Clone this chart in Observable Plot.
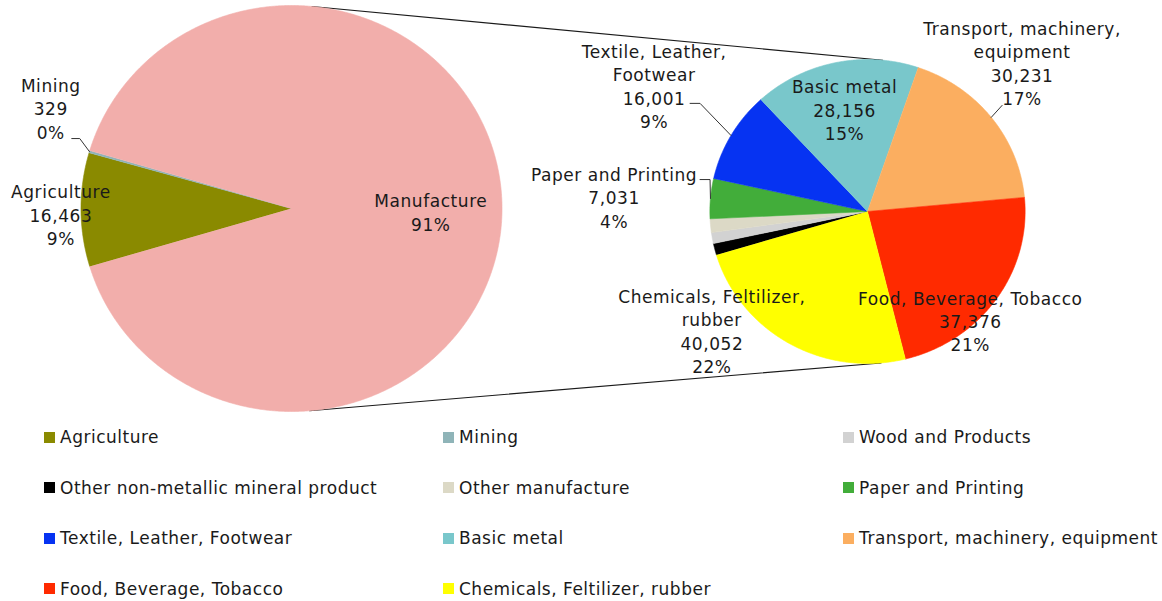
<!DOCTYPE html>
<html><head><meta charset="utf-8">
<script src="https://cdn.jsdelivr.net/npm/d3@7"></script>
<script src="https://cdn.jsdelivr.net/npm/@observablehq/plot@0.6"></script>
<style>
body{margin:0;background:#fff;font-family:"DejaVu Sans",Verdana,sans-serif;}
#legend{display:grid;grid-template-columns:399px 400px 300px;grid-auto-rows:50.5px;padding-left:44px;font-size:17px;letter-spacing:0.5px;color:#1a1a1a}
.item{display:flex;align-items:center;white-space:nowrap}
.sw{width:11px;height:11px;margin-right:5px;flex:none}
</style></head>
<body><div id="chart"></div><div id="legend"></div>
<script>
// ---- data ----
const names = ["Agriculture","Mining","Wood and Products","Other non-metallic mineral product","Other manufacture","Paper and Printing","Textile, Leather, Footwear","Basic metal","Transport, machinery, equipment","Food, Beverage, Tobacco","Chemicals, Feltilizer, rubber"];
const values = [16463, 329, 1920, 2041, 2400, 7031, 16001, 28156, 30231, 37376, 40052];
const colors = ["#8a8a00","#8fb4b8","#d2d2d2","#000000","#dcd9c6","#42ad3a","#0633f2","#79c7cb","#fbae60","#ff2a00","#ffff00"];
const otherName = "Manufacture";
const otherColor = "#f2aeab";
const mainOrder = ["Agriculture","Mining"];
const subOrder = ["Other non-metallic mineral product","Wood and Products","Other manufacture","Paper and Printing","Textile, Leather, Footwear","Basic metal","Transport, machinery, equipment","Food, Beverage, Tobacco","Chemicals, Feltilizer, rubber"];
const labelNames = {
  "Manufacture":"Manufacture","Agriculture":"Agriculture","Mining":"Mining",
  "Paper and Printing":"Paper and Printing","Textile, Leather, Footwear":"Textile, Leather,\nFootwear",
  "Basic metal":"Basic metal","Transport, machinery, equipment":"Transport, machinery,\nequipment",
  "Food, Beverage, Tobacco":"Food, Beverage, Tobacco","Chemicals, Feltilizer, rubber":"Chemicals, Feltilizer,\nrubber"
};

// ---- layout ----
const W = 1162, H = 412;
const sx = 1.037; // horizontal stretch of the original picture
const pies = {main:{cx:291, cy:208, r:203}, sub:{cx:867, cy:211, r:152}};
// label placement: [pie, angle in degrees clockwise from 12 o'clock, distance in radii]
const labelLayout = {
  "Manufacture":["main",91.3,0.662], "Agriculture":["main",268.5,1.096], "Mining":["main",293.5,1.247],
  "Basic metal":["sub",347.8,0.690], "Transport, machinery, equipment":["sub",45.0,1.387],
  "Food, Beverage, Tobacco":["sub",137.7,0.969], "Chemicals, Feltilizer, rubber":["sub",231.6,1.26],
  "Paper and Printing":["sub",273.5,1.611], "Textile, Leather, Footwear":["sub",301.5,1.588]
};
// leader lines: offsets of label-side points from the label centre
const leaderLayout = {
  "Mining":[[21,31],[29,31]], "Textile, Leather, Footwear":[[36,18],[46,18]],
  "Paper and Printing":[[86,-17],[96,-17]], "Transport, machinery, equipment":[[-20,43]]
};

// ---- geometry ----
const byName = new Map(names.map((n,i)=>[n,{name:n,value:values[i]}]));
const total = d3.sum(values);
const otherValue = d3.sum(subOrder, n => byName.get(n).value);
const mainData = [...mainOrder.map(n=>byName.get(n)), {name:otherName, value:otherValue}];
const subData = subOrder.map(n=>byName.get(n));
const start = Math.PI/2 + (otherValue/total)*Math.PI;
const pie = d3.pie().sort(null).value(d=>d.value).startAngle(start).endAngle(start+2*Math.PI);
const arcs = [...pie(mainData).map(a=>({...a,pie:"main"})), ...pie(subData).map(a=>({...a,pie:"sub"}))];
const polar = (p,a,k) => ({x:p.cx + k*p.r*sx*Math.sin(a), y:p.cy - k*p.r*Math.cos(a)});

const slicePts = [];
for (const a of arcs) {
  const p = pies[a.pie];
  const key = a.pie + ":" + a.data.name;
  const n = Math.max(2, Math.ceil((a.endAngle-a.startAngle)/(0.4*Math.PI/180)));
  slicePts.push({key, name:a.data.name, ...polar(p,0,0)});
  for (let i=0;i<=n;i++) slicePts.push({key, name:a.data.name, ...polar(p, a.startAngle+(a.endAngle-a.startAngle)*i/n, 1)});
}

// external tangents between the two pies (computed in unstretched space)
const P1 = pies.main, P2 = pies.sub;
const dx = (P2.cx-P1.cx)/sx, dy = P2.cy-P1.cy, D = Math.hypot(dx,dy);
const phi = Math.atan2(dy,dx), beta = Math.acos((P1.r-P2.r)/D);
const connectors = [];
for (const s of [-1,1]) {
  const nx = Math.cos(phi + s*beta), ny = Math.sin(phi + s*beta);
  connectors.push({side:s, x:P1.cx+P1.r*nx*sx, y:P1.cy+P1.r*ny});
  connectors.push({side:s, x:P2.cx+P2.r*nx*sx, y:P2.cy+P2.r*ny});
}

const fmt = d3.format(",");
const labels = [], leaders = [];
for (const a of arcs) {
  const nm = a.data.name;
  if (!labelLayout[nm]) continue;
  const [pk, ang, k] = labelLayout[nm];
  const c = polar(pies[pk], ang*Math.PI/180, k);
  const pct = Math.round(a.data.value/total*100) + "%";
  const text = nm === otherName ? `${labelNames[nm]}\n${pct}` : `${labelNames[nm]}\n${fmt(a.data.value)}\n${pct}`;
  labels.push({...c, text});
  if (leaderLayout[nm]) {
    for (const [ox,oy] of leaderLayout[nm]) leaders.push({key:nm, x:c.x+ox, y:c.y+oy});
    leaders.push({key:nm, ...polar(pies[a.pie], (a.startAngle+a.endAngle)/2, 1)});
  }
}

const chart = Plot.plot({
  width: W, height: H, margin: 0,
  style: {fontFamily: "'DejaVu Sans', Verdana, sans-serif", background: "#fff", letterSpacing: "0.55px"},
  x: {domain:[0,W], range:[0,W], axis:null},
  y: {domain:[0,H], range:[0,H], axis:null},
  color: {domain:[...names, otherName], range:[...colors, otherColor]},
  marks: [
    Plot.line(connectors, {x:"x", y:"y", z:"side", stroke:"#1a1a1a", strokeWidth:1.1}),
    Plot.line(slicePts, {x:"x", y:"y", z:"key", fill:"name", stroke:"name", strokeWidth:0.6}),
    Plot.line(leaders, {x:"x", y:"y", z:"key", stroke:"#333", strokeWidth:1}),
    Plot.text(labels, {x:"x", y:"y", text:"text", fontSize:17, lineHeight:1.38, fill:"#1a1a1a"})
  ]
});
document.getElementById("chart").appendChild(chart);

const legend = document.getElementById("legend");
names.forEach((n,i) => {
  const it = document.createElement("div"); it.className = "item";
  const sw = document.createElement("span"); sw.className = "sw"; sw.style.background = colors[i];
  const tx = document.createElement("span"); tx.textContent = n;
  it.appendChild(sw); it.appendChild(tx); legend.appendChild(it);
});
</script></body></html>
